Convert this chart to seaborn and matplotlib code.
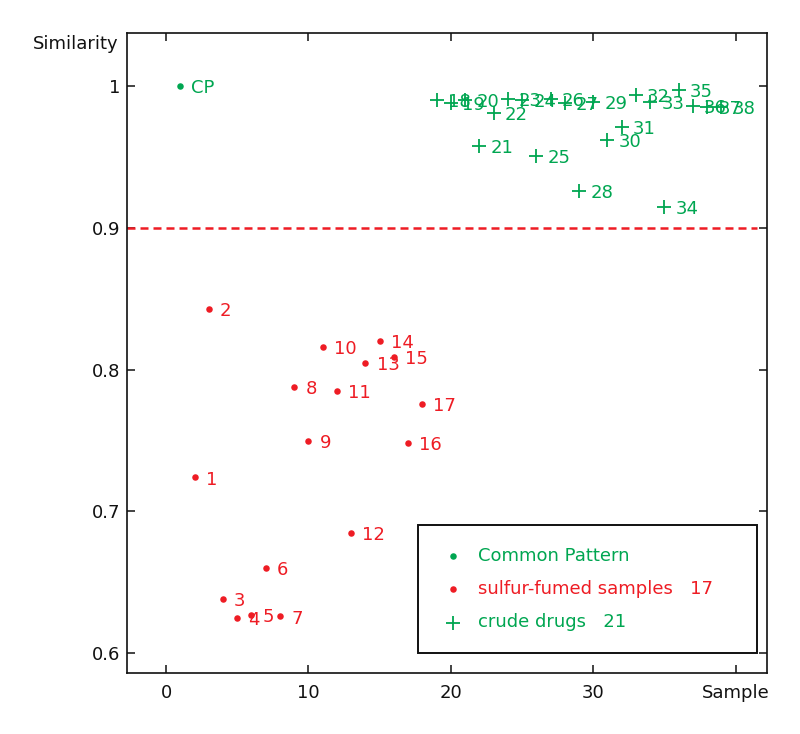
import matplotlib
matplotlib.use("Agg")
import matplotlib.pyplot as plt
import seaborn as sns
import pandas as pd

# ---------------- data ----------------
cp_x = [1]
cp_y = [1.0]
cp_label = ["CP"]

sulfur_ids = list(range(1, 18))
sulfur_x = [2, 3, 4, 5, 6, 7, 8, 9, 10, 11, 12, 13, 14, 15, 16, 17, 18]
sulfur_y = [0.724, 0.843, 0.638, 0.625, 0.627, 0.660, 0.626, 0.788, 0.750,
            0.816, 0.785, 0.685, 0.805, 0.820, 0.809, 0.748, 0.776]

crude_ids = list(range(18, 39))
crude_x = [19, 20, 21, 22, 23, 24, 25, 26, 27, 28, 29, 30, 31, 32, 33, 34,
           35, 36, 37, 38, 39]
crude_y = [0.990, 0.988, 0.990, 0.958, 0.981, 0.991, 0.990, 0.951, 0.991,
           0.988, 0.926, 0.989, 0.962, 0.971, 0.994, 0.989, 0.915, 0.997,
           0.986, 0.985, 0.985]

threshold = 0.9
x_ticks = [0, 10, 20, 30, 40]
x_ticklabels = ["0", "10", "20", "30", "Sample"]
y_ticks = [0.6, 0.7, 0.8, 0.9, 1.0]
y_ticklabels = ["0.6", "0.7", "0.8", "0.9", "1"]
legend_labels = ["Common Pattern", "sulfur-fumed samples   17", "crude drugs   21"]

GREEN = "#00A651"
RED = "#EE1C24"

cp_df = pd.DataFrame({"x": cp_x, "y": cp_y, "lab": cp_label})
sf_df = pd.DataFrame({"x": sulfur_x, "y": sulfur_y, "lab": [str(i) for i in sulfur_ids]})
cr_df = pd.DataFrame({"x": crude_x, "y": crude_y, "lab": [str(i) for i in crude_ids]})

# ---------------- plot ----------------
sns.set_style("white")
plt.rcParams["font.family"] = ["DejaVu Sans"]

fig = plt.figure(figsize=(8.0, 7.34), dpi=100)
ax = fig.add_axes([127 / 800, 1 - 673 / 734, 640 / 800, 640 / 734])

sns.scatterplot(data=cp_df, x="x", y="y", ax=ax, color=GREEN, s=22,
                marker="o", edgecolor=GREEN, linewidth=0, label=legend_labels[0])
sns.scatterplot(data=sf_df, x="x", y="y", ax=ax, color=RED, s=22,
                marker="o", edgecolor=RED, linewidth=0, label=legend_labels[1])
sns.scatterplot(data=cr_df, x="x", y="y", ax=ax, color=GREEN, s=110,
                marker="+", linewidth=1.3, label=legend_labels[2])

for df, col in [(cp_df, GREEN), (sf_df, RED), (cr_df, GREEN)]:
    for _, r in df.iterrows():
        ax.annotate(r["lab"], (r["x"], r["y"]), xytext=(8, -1.5),
                    textcoords="offset points", ha="left", va="center",
                    fontsize=13, color=col)

ax.axhline(threshold, xmin=0, xmax=0.984, color=RED, lw=1.8,
           linestyle=(0, (3.2, 2.0)))

ax.set_xlim(-2.74, 42.2)
ax.set_ylim(0.5861, 1.0374)
ax.set_xticks(x_ticks)
ax.set_xticklabels(x_ticklabels)
ax.set_yticks(y_ticks)
ax.set_yticklabels(y_ticklabels)
ax.set_xlabel("")
ax.set_ylabel("")

ax.tick_params(axis="both", which="both", direction="in", length=6, width=1.1,
               colors="#111111", labelsize=13, top=True, right=True,
               bottom=True, left=True)
ax.tick_params(axis="x", pad=8)
ax.tick_params(axis="y", pad=5)
for sp in ax.spines.values():
    sp.set_visible(True)
    sp.set_color("#111111")
    sp.set_linewidth(1.2)

ax.text(-0.014, 0.983, "Similarity", transform=ax.transAxes, ha="right",
        va="center", fontsize=13, color="#111111")

leg = ax.legend(loc="lower left", bbox_to_anchor=(0.455, 0.031, 0.529, 0.211),
                mode="expand", fontsize=13, frameon=True, fancybox=False,
                framealpha=1, edgecolor="#111111", borderpad=1.2,
                labelspacing=0.85, handlelength=1.5, handletextpad=0.6,
                borderaxespad=0)
leg.get_frame().set_linewidth(1.4)
for txt, col in zip(leg.get_texts(), [GREEN, RED, GREEN]):
    txt.set_color(col)

fig.savefig("out.png", dpi=100)
